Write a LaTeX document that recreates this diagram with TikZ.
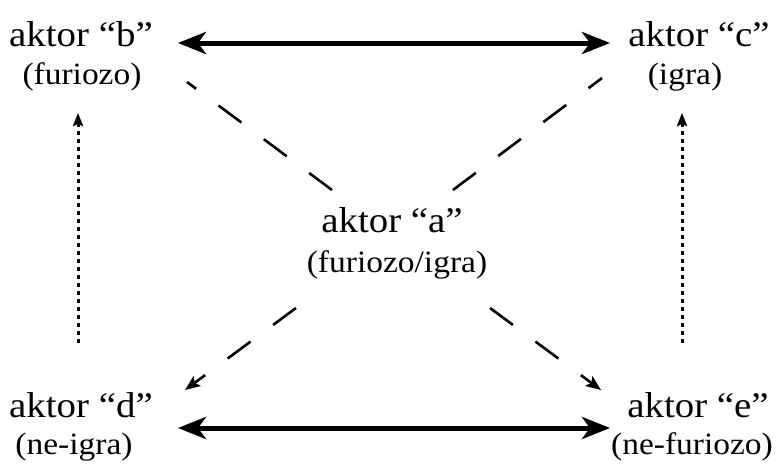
\documentclass[tikz,border=0pt]{standalone}
\usepackage{fontspec}
\setmainfont{Liberation Serif}
\newfontfamily\wideserif[FakeStretch=1.08]{Liberation Serif}
\usetikzlibrary{arrows.meta}
\tikzset{
  nameline/.style={anchor=base, inner sep=0pt, font=\wideserif\fontsize{36}{40}\selectfont},
  subline/.style={anchor=base, inner sep=0pt, font=\wideserif\fontsize{31}{36}\selectfont},
  bigarrow/.style={line width=5pt, {Stealth[length=28pt,width=22pt,inset=8pt]}-{Stealth[length=28pt,width=22pt,inset=8pt]}},
  dotarrow/.style={line width=3pt, dash pattern=on 4pt off 4pt, -{Stealth[length=13pt,width=10pt,inset=2pt]}},
  dashline/.style={line width=2.6pt, dash pattern=on 28.5pt off 28pt},
  dasharrow/.style={dashline, -{Stealth[length=15pt,width=12pt,inset=3pt]}}
}
\begin{document}
\begin{tikzpicture}[x=1pt,y=-1pt]
\useasboundingbox (0,0) rectangle (782,464);
% actor nodes
\node[nameline] (b1) at (81,46) {aktor “b”};
\node[subline]  (b2) at (82,84) {(furiozo)};
\node[nameline] (c1) at (699,46) {aktor “c”};
\node[subline]  (c2) at (685,84) {(igra)};
\node[nameline] (a1) at (392,232) {aktor “a”};
\node[subline]  (a2) at (397,272) {(furiozo/igra)};
\node[nameline] (d1) at (81,417) {aktor “d”};
\node[subline]  (d2) at (74,454) {(ne-igra)};
\node[nameline] (e1) at (698,417) {aktor “e”};
\node[subline]  (e2) at (692,454) {(ne-furiozo)};
% connector end points
\coordinate (bR) at (178,43);
\coordinate (cL) at (610,43);
\coordinate (dR) at (178,428);
\coordinate (eL) at (610,428);
\coordinate (bD) at (78,113);
\coordinate (dU) at (78,343);
\coordinate (cD) at (682,113);
\coordinate (eU) at (682,343);
\coordinate (aUL) at (332,190);
\coordinate (bA) at (187,82);
\coordinate (aUR) at (453,190);
\coordinate (cA) at (602,78);
\coordinate (aLL) at (296,308);
\coordinate (dA) at (185,390);
\coordinate (aLR) at (490,308);
\coordinate (eA) at (601,390);
% connectors
\draw[bigarrow] (bR) -- (cL);
\draw[bigarrow] (dR) -- (eL);
\draw[dotarrow] (dU) -- (bD);
\draw[dotarrow] (eU) -- (cD);
\draw[dashline] (aUL) -- (bA);
\draw[dashline] (aUR) -- (cA);
\draw[dasharrow] (aLL) -- (dA);
\draw[dasharrow] (aLR) -- (eA);
\end{tikzpicture}
\end{document}
